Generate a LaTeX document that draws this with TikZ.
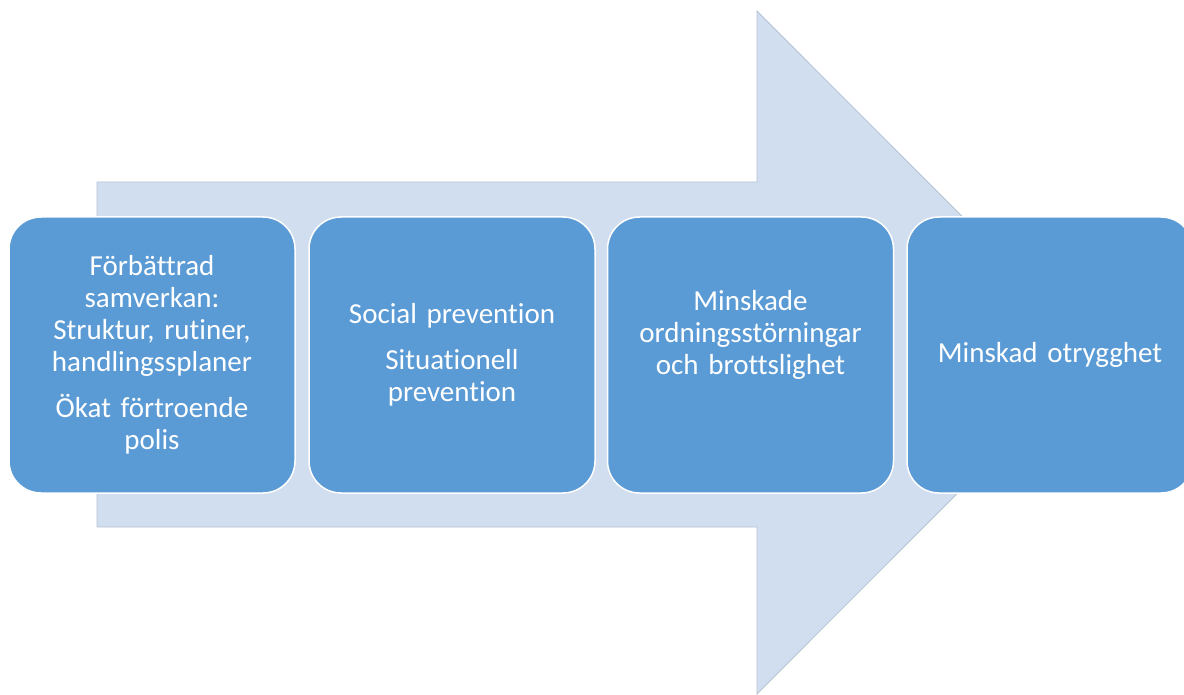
\documentclass[tikz,border=0pt]{standalone}
\usepackage{fontspec}
\setmainfont{Carlito}[Ligatures={NoCommon}]
\definecolor{boxblue}{HTML}{5B9BD5}
\definecolor{arrowfill}{HTML}{D0DEEF}
\definecolor{arrowline}{HTML}{B8C4D4}
\begin{document}
\begin{tikzpicture}[x=1pt,y=-1pt,
  stepbox/.style={draw=white, line width=1.5pt, fill=boxblue, rounded corners=32pt,
    minimum width=286pt, minimum height=276pt, text=white, align=center,
    font=\fontsize{29}{32}\selectfont, inner sep=0pt, text width=276pt},
  bigarrow/.style={fill=arrowfill, draw=arrowline, line width=0.8pt}]
\useasboundingbox (0,0) rectangle (1184,695);
\draw[bigarrow] (97,182) -- (757,182) -- (757,11) -- (1098,352.5) -- (757,694) -- (757,527) -- (97,527) -- cycle;
\node[stepbox] (b1) at (152,355) {Förbättrad\\samverkan:\\Struktur, rutiner,\\handlingssplaner\\[14pt]Ökat förtroende\\polis};
\node[stepbox] (b2) at (452,355) {Social prevention\\[14pt]Situationell\\prevention};
\node[stepbox] (b3) at (750.5,355) {Minskade\\ordningsstörningar\\och brottslighet\\[14pt]\mbox{}};
\node[stepbox] (b4) at (1050,355) {Minskad otrygghet};
\end{tikzpicture}
\end{document}
